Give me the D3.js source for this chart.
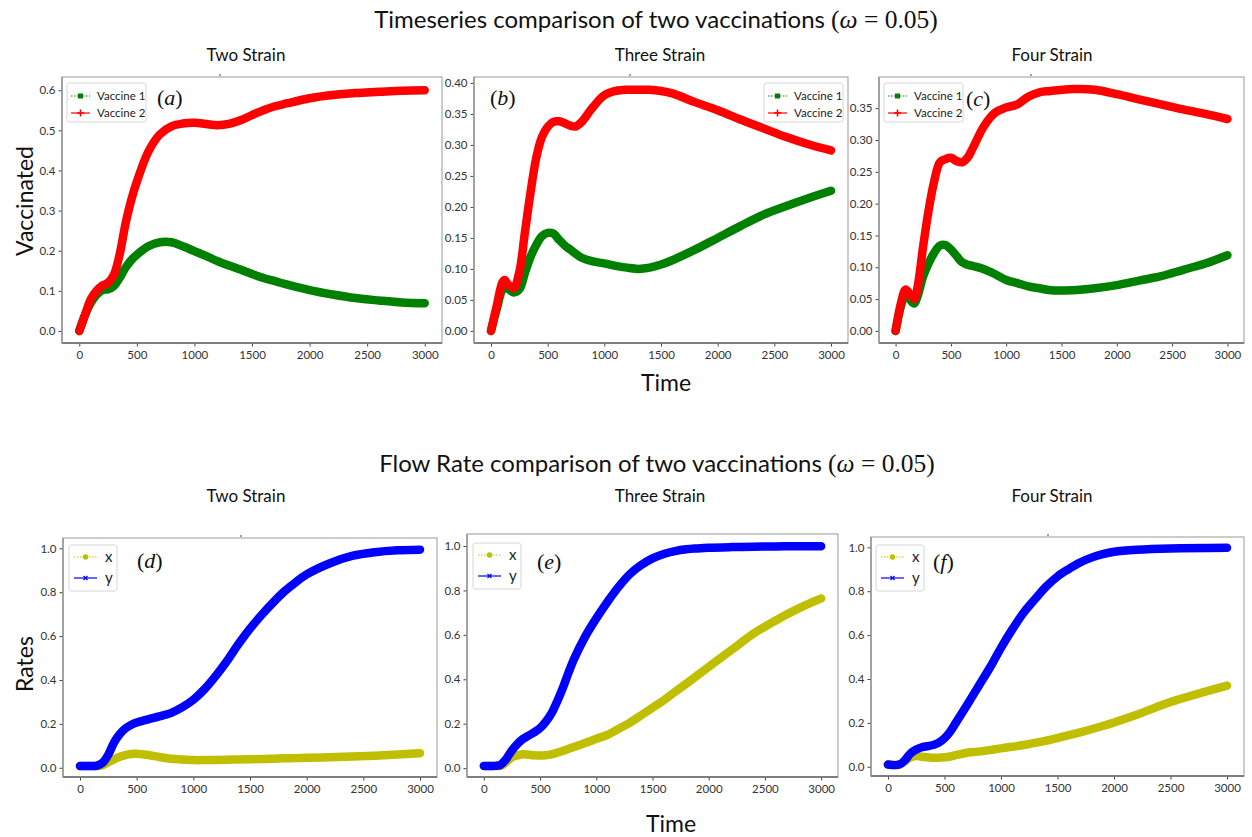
<!DOCTYPE html>
<html><head><meta charset="utf-8">
<script src="https://cdn.jsdelivr.net/npm/d3@7"></script>
<style>
html,body{margin:0;padding:0;background:#fff;}
svg{display:block;}
text{font-family:Lato,"Open Sans",sans-serif;}
</style></head>
<body>
<svg id="chart" width="1252" height="837"></svg>
<script>
// ---------------- DATA ----------------
const timeA = [0,50,100,150,200,250,300,350,400,450,500,600,700,800,900,1000,1100,1200,1300,1400,1500,1600,1700,1800,2000,2200,2400,2600,2800,3000];
const vaccine1A = [0,0.04,0.07,0.09,0.102,0.104,0.112,0.132,0.157,0.176,0.19,0.211,0.221,0.221,0.211,0.199,0.187,0.174,0.163,0.153,0.142,0.132,0.124,0.116,0.102,0.091,0.082,0.076,0.071,0.069];
const vaccine2A = [0,0.04,0.079,0.1,0.113,0.12,0.14,0.19,0.265,0.325,0.372,0.447,0.49,0.51,0.517,0.519,0.516,0.513,0.516,0.525,0.538,0.55,0.56,0.567,0.58,0.588,0.593,0.596,0.599,0.60];

const timeB = [0,50,100,120,150,200,250,300,350,400,450,500,550,600,650,700,750,800,900,1000,1100,1200,1300,1400,1500,1600,1800,2000,2200,2400,2600,2800,3000];
const vaccine1B = [0,0.035,0.067,0.07,0.068,0.062,0.067,0.094,0.12,0.139,0.153,0.158,0.157,0.147,0.138,0.131,0.124,0.118,0.112,0.109,0.105,0.102,0.1,0.102,0.107,0.114,0.131,0.15,0.169,0.187,0.201,0.214,0.226];
const vaccine2B = [0,0.04,0.078,0.082,0.075,0.069,0.095,0.16,0.225,0.28,0.313,0.329,0.337,0.338,0.335,0.331,0.33,0.337,0.361,0.38,0.387,0.389,0.389,0.389,0.387,0.383,0.369,0.356,0.341,0.327,0.313,0.301,0.291];

const timeC = [0,50,90,120,150,170,200,250,300,350,400,450,500,550,600,650,700,800,900,1000,1100,1200,1300,1400,1600,1800,2000,2200,2400,2600,2800,3000];
const vaccine1C = [0,0.04,0.058,0.052,0.045,0.043,0.055,0.086,0.107,0.123,0.134,0.135,0.128,0.118,0.108,0.104,0.102,0.097,0.089,0.08,0.075,0.07,0.067,0.064,0.064,0.067,0.072,0.079,0.086,0.096,0.106,0.119];
const vaccine2C = [0,0.045,0.065,0.06,0.053,0.05,0.07,0.134,0.191,0.236,0.265,0.27,0.272,0.267,0.265,0.272,0.288,0.322,0.343,0.351,0.356,0.368,0.375,0.377,0.38,0.379,0.372,0.364,0.356,0.348,0.341,0.333];

const timeD = [0,100,150,200,250,300,350,400,450,500,600,700,800,900,1000,1100,1200,1300,1400,1500,1600,1700,1800,1900,2000,2200,2400,2600,2800,3000];
const rateXD = [0.008,0.008,0.008,0.012,0.025,0.038,0.05,0.058,0.063,0.064,0.058,0.049,0.041,0.038,0.035,0.035,0.036,0.037,0.038,0.039,0.040,0.041,0.043,0.044,0.046,0.048,0.051,0.055,0.06,0.066];
const rateYD = [0.008,0.008,0.01,0.023,0.06,0.115,0.153,0.179,0.195,0.206,0.221,0.234,0.249,0.275,0.31,0.359,0.42,0.489,0.565,0.634,0.695,0.751,0.802,0.844,0.881,0.931,0.965,0.982,0.991,0.994];

const timeE = [0,100,150,200,250,300,350,400,450,500,550,600,650,700,750,800,900,1000,1100,1200,1300,1400,1500,1600,1700,1800,1900,2000,2200,2400,2600,2800,3000];
const rateXE = [0.01,0.01,0.01,0.027,0.05,0.057,0.062,0.06,0.058,0.057,0.058,0.062,0.069,0.077,0.086,0.095,0.113,0.132,0.15,0.177,0.205,0.238,0.272,0.305,0.343,0.38,0.418,0.456,0.531,0.606,0.666,0.719,0.764];
const rateYE = [0.01,0.01,0.015,0.042,0.08,0.11,0.132,0.147,0.162,0.18,0.208,0.245,0.298,0.358,0.426,0.489,0.591,0.674,0.749,0.817,0.874,0.914,0.944,0.964,0.977,0.985,0.989,0.992,0.995,0.997,0.998,0.999,0.999];

const timeF = [0,100,150,200,250,300,400,450,500,550,600,700,800,900,1000,1100,1200,1300,1400,1500,1600,1700,1800,1900,2000,2200,2500,3000];
const rateXF = [0.01,0.01,0.025,0.043,0.049,0.046,0.041,0.041,0.043,0.047,0.053,0.064,0.069,0.076,0.084,0.091,0.099,0.109,0.119,0.131,0.144,0.157,0.171,0.186,0.202,0.237,0.295,0.37];
const rateYF = [0.01,0.01,0.03,0.061,0.079,0.089,0.099,0.11,0.13,0.16,0.2,0.282,0.366,0.45,0.542,0.626,0.702,0.763,0.821,0.867,0.901,0.931,0.953,0.969,0.98,0.989,0.995,0.998];

const xTicks = [0,500,1000,1500,2000,2500,3000];
const yTicksA = [0,0.1,0.2,0.3,0.4,0.5,0.6];
const yTicksB = [0,0.05,0.10,0.15,0.20,0.25,0.30,0.35,0.40];
const yTicksC = [0,0.05,0.10,0.15,0.20,0.25,0.30,0.35];
const yTicksRate = [0,0.2,0.4,0.6,0.8,1.0];
const vaccineNames = ["Vaccine 1","Vaccine 2"];
const rateNames = ["x","y"];
const strainTitles = ["Two Strain","Three Strain","Four Strain"];
const panelLetters = ["a","b","c","d","e","f"];

// ---------------- LAYOUT ----------------
const C1 = "#008000", C2 = "#ff0000", CX = "#bfbf00", CY = "#0000ff";
const svg = d3.select("#chart");

const panels = [
  {frame:[62,77,442,343], yDom:[-0.03,0.633], yTicks:yTicksA, fmt:".1f", t:timeA, s:[vaccine1A,vaccine2A], cols:[C1,C2], names:vaccineNames, kind:"v",
   legend:[67,83], letter:[157,105], topTick:220},
  {frame:[474,77,848,343], yDom:[-0.0195,0.4095], yTicks:yTicksB, fmt:".2f", t:timeB, s:[vaccine1B,vaccine2B], cols:[C1,C2], names:vaccineNames, kind:"v",
   legend:[764,83], letter:[490,105], topTick:630},
  {frame:[879,77,1244,343], yDom:[-0.019,0.399], yTicks:yTicksC, fmt:".2f", t:timeC, s:[vaccine1C,vaccine2C], cols:[C1,C2], names:vaccineNames, kind:"v",
   legend:[884,83], letter:[966,106], topTick:1031},
  {frame:[63,538,437,777], yDom:[-0.042,1.047], yTicks:yTicksRate, fmt:".1f", t:timeD, s:[rateXD,rateYD], cols:[CX,CY], names:rateNames, kind:"r",
   legend:[69,545], letter:[137,568], topTick:241},
  {frame:[467,534,838,777], yDom:[-0.04,1.054], yTicks:yTicksRate, fmt:".1f", t:timeE, s:[rateXE,rateYE], cols:[CX,CY], names:rateNames, kind:"r",
   legend:[473,543], letter:[537,569], topTick:null},
  {frame:[871,537,1244,776], yDom:[-0.042,1.047], yTicks:yTicksRate, fmt:".1f", t:timeF, s:[rateXF,rateYF], cols:[CX,CY], names:rateNames, kind:"r",
   legend:[876,545], letter:[933,569], topTick:1048}
];

panels.forEach((p, i) => {
  const [x0,y0,x1,y1] = p.frame;
  const x = d3.scaleLinear().domain([-150,3150]).range([x0,x1]);
  const y = d3.scaleLinear().domain(p.yDom).range([y1,y0]);
  const g = svg.append("g");

  // axes
  const xa = g.append("g").attr("transform",`translate(0,${y1})`)
    .call(d3.axisBottom(x).tickValues(xTicks).tickSize(3.5).tickPadding(4).tickFormat(d3.format("d")));
  const ya = g.append("g").attr("transform",`translate(${x0},0)`)
    .call(d3.axisLeft(y).tickValues(p.yTicks).tickSize(3.5).tickPadding(3).tickFormat(d3.format(p.fmt)));
  [xa,ya].forEach(a => {
    a.select(".domain").remove();
    a.selectAll(".tick line").attr("stroke","#444");
    a.selectAll(".tick text").attr("fill","#333").style("font-size","11.5px").style("font-family","Lato, sans-serif");
  });

  // frame
  g.append("rect").attr("x",x0).attr("y",y0).attr("width",x1-x0).attr("height",y1-y0)
    .attr("fill","none").attr("stroke","#aaa").attr("stroke-width",1.2);
  g.append("line").attr("x1",x0).attr("x2",x1).attr("y1",y1).attr("y2",y1).attr("stroke","#666").attr("stroke-width",1.3);
  g.append("line").attr("x1",x0).attr("x2",x0).attr("y1",y0).attr("y2",y1).attr("stroke","#888").attr("stroke-width",1.2);
  if (p.topTick !== null) {
    g.append("line").attr("x1",p.topTick).attr("x2",p.topTick).attr("y1",y0-3).attr("y2",y0-1).attr("stroke","#444").attr("stroke-width",1);
  }

  // lines
  const line = d3.line().x(d => x(d[0])).y(d => y(d[1])).curve(d3.curveCatmullRom.alpha(0.5));
  p.s.forEach((ser, k) => {
    g.append("path").datum(p.t.map((tt, j) => [tt, ser[j]]))
      .attr("d", line).attr("fill","none").attr("stroke",p.cols[k])
      .attr("stroke-width",8.5).attr("stroke-linecap","round").attr("stroke-linejoin","round");
  });

  // legend
  const [lx, ly] = p.legend;
  const lg = g.append("g").attr("transform",`translate(${lx},${ly})`);
  if (p.kind === "v") {
    lg.append("rect").attr("width",79).attr("height",39).attr("rx",2.5)
      .attr("fill","#fff").attr("fill-opacity",0.8).attr("stroke","#d6d6d6").attr("stroke-width",1);
    p.names.forEach((nm, k) => {
      const cy = 13 + k*17;
      lg.append("line").attr("x1",4).attr("x2",23).attr("y1",cy).attr("y2",cy)
        .attr("stroke",p.cols[k]).attr("stroke-width",1.2).attr("stroke-dasharray",k===0?"1.5,1.5":null);
      if (k === 0) {
        lg.append("rect").attr("x",11).attr("y",cy-2.5).attr("width",5).attr("height",5).attr("fill",C1);
      } else {
        lg.append("path").attr("d",`M13.5,${cy-3.5}V${cy+3.5}M10,${cy}H17`).attr("stroke",C2).attr("stroke-width",1.6);
      }
      lg.append("text").attr("x",30).attr("y",cy+4).text(nm).attr("fill","#222").style("font-size","11.5px");
    });
  } else {
    lg.append("rect").attr("width",48).attr("height",46).attr("rx",2.5)
      .attr("fill","#fff").attr("fill-opacity",0.8).attr("stroke","#d6d6d6").attr("stroke-width",1);
    p.names.forEach((nm, k) => {
      const cy = 12 + k*21;
      lg.append("line").attr("x1",5).attr("x2",28).attr("y1",cy).attr("y2",cy)
        .attr("stroke",p.cols[k]).attr("stroke-width",1.2).attr("stroke-dasharray",k===0?"1.5,1.5":null);
      if (k === 0) {
        lg.append("circle").attr("cx",16.5).attr("cy",cy).attr("r",2.8).attr("fill",CX);
      } else {
        lg.append("path").attr("d",`M14.5,${cy-2}L18.5,${cy+2}M14.5,${cy+2}L18.5,${cy-2}`).attr("stroke",CY).attr("stroke-width",1.2);
      }
      lg.append("text").attr("x",36).attr("y",cy+5).text(nm).attr("fill","#222").style("font-size","15px");
    });
  }

  // panel letter
  const lt = g.append("text").attr("x",p.letter[0]).attr("y",p.letter[1])
    .style("font-family","'Liberation Serif','DejaVu Serif',serif").style("font-size","22px").attr("fill","#111");
  lt.append("tspan").text("(");
  lt.append("tspan").style("font-style","italic").text(panelLetters[i]);
  lt.append("tspan").text(")");
});

// ---------------- TITLES ----------------
function mathTitle(cx, cyBase, label) {
  const t = svg.append("text").attr("x",cx).attr("y",cyBase).attr("text-anchor","middle").attr("fill","#111").style("font-size","24px");
  t.append("tspan").text(label + " ");
  t.append("tspan").style("font-family","'Liberation Serif',serif").style("font-size","25.5px").text("(");
  t.append("tspan").style("font-family","'Liberation Serif',serif").style("font-style","italic").style("font-size","25.5px").text("ω");
  t.append("tspan").style("font-family","'Liberation Serif',serif").style("font-size","25.5px").text(" = 0.05)");
}
mathTitle(656, 28, "Timeseries comparison of two vaccinations");
mathTitle(657, 472, "Flow Rate comparison of two vaccinations");

const subX = [246, 660, 1052];
strainTitles.forEach((s, k) => {
  svg.append("text").attr("x",subX[k]).attr("y",61).attr("text-anchor","middle").attr("fill","#111").style("font-size","17px").text(s);
  svg.append("text").attr("x",subX[k]).attr("y",502).attr("text-anchor","middle").attr("fill","#111").style("font-size","17px").text(s);
});

svg.append("text").attr("transform","translate(33,201) rotate(-90)").attr("text-anchor","middle").attr("fill","#111").style("font-size","23px").text("Vaccinated");
svg.append("text").attr("transform","translate(33,664) rotate(-90)").attr("text-anchor","middle").attr("fill","#111").style("font-size","23px").text("Rates");
svg.append("text").attr("x",666).attr("y",391).attr("text-anchor","middle").attr("fill","#111").style("font-size","23px").text("Time");
svg.append("text").attr("x",671).attr("y",832).attr("text-anchor","middle").attr("fill","#111").style("font-size","23px").text("Time");
</script>
</body></html>
